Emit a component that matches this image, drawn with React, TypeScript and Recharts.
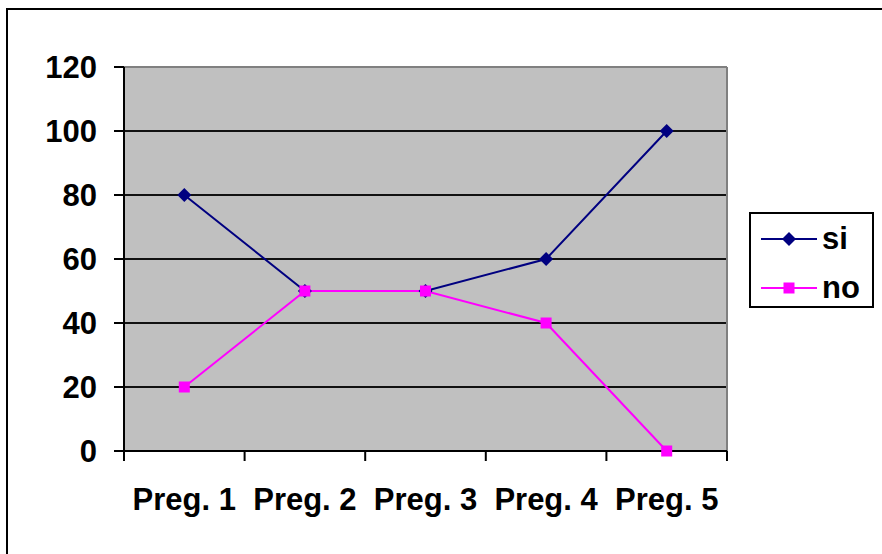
import { CartesianGrid, Legend, Line, LineChart, ReferenceLine, XAxis, YAxis } from "recharts";

const categories = ["Preg. 1", "Preg. 2", "Preg. 3", "Preg. 4", "Preg. 5"];
const siValues = [80, 50, 50, 60, 100];
const noValues = [20, 50, 50, 40, 0];
const yTicks = [0, 20, 40, 60, 80, 100, 120];
const boundaryTicks = [0, 1, 2, 3, 4, 5];

const data = categories.map((name, i) => ({ name, idx: i + 0.5, si: siValues[i], no: noValues[i] }));

const FONT = "'Liberation Sans', Arial, sans-serif";
const NAVY = "#000080";
const MAGENTA = "#FF00FF";
const FS = 31;

const Diamond = (p: any) => {
  const { cx, cy, index } = p;
  if (cx == null || cy == null) return <g key={index} />;
  const r = 7;
  return (
    <path key={index} d={`M${cx},${cy - r}L${cx + r},${cy}L${cx},${cy + r}L${cx - r},${cy}Z`} fill={NAVY} />
  );
};

const Square = (p: any) => {
  const { cx, cy, index } = p;
  if (cx == null || cy == null) return <g key={index} />;
  const h = 5.5;
  return <rect key={index} x={cx - h} y={cy - h} width={h * 2} height={h * 2} fill={MAGENTA} />;
};

const LegendBox = () => {
  const rows = [
    { label: "si", color: NAVY, shape: "diamond" },
    { label: "no", color: MAGENTA, shape: "square" },
  ];
  return (
    <div style={{ paddingLeft: 10 }}>
      {rows.map((r) => (
        <div key={r.label} style={{ display: "flex", alignItems: "center", height: 49 }}>
          <svg width={56} height={16}>
            <line x1={0} y1={8} x2={56} y2={8} stroke={r.color} strokeWidth={2} />
            {r.shape === "diamond" ? (
              <path d="M28,1L35,8L28,15L21,8Z" fill={r.color} />
            ) : (
              <rect x={22.5} y={2.5} width={11} height={11} fill={r.color} />
            )}
          </svg>
          <span style={{ marginLeft: 5, fontFamily: FONT, fontWeight: "bold", fontSize: FS, color: "#000", lineHeight: "30px" }}>
            {r.label}
          </span>
        </div>
      ))}
    </div>
  );
};

export default function App() {
  return (
    <div style={{ position: "absolute", left: 0, top: 0, width: 882, height: 554, background: "#fff" }}>
      <div
        style={{
          position: "absolute",
          left: 6,
          top: 8,
          width: 900,
          height: 560,
          borderLeft: "2px solid #000",
          borderTop: "2px solid #000",
          boxSizing: "border-box",
        }}
      />
      <LineChart
        width={882}
        height={554}
        data={data}
        margin={{ top: 67, right: 155, left: 0, bottom: 31 }}
        style={{ position: "absolute", left: 0, top: 0 }}
      >
        <CartesianGrid fill="#C0C0C0" vertical={false} stroke="#111" strokeWidth={2} />
        <XAxis
          xAxisId="b"
          dataKey="name"
          scale="band"
          axisLine={false}
          tickLine={false}
          tickSize={0}
          tickMargin={25}
          height={60}
          interval={0}
          tick={{ fill: "#000", fontSize: FS, fontWeight: "bold", fontFamily: FONT }}
        />
        <XAxis
          xAxisId="a"
          dataKey="idx"
          type="number"
          domain={[0, 5]}
          ticks={boundaryTicks}
          allowDataOverflow
          interval={0}
          tickFormatter={() => ""}
          tickSize={10}
          height={12}
          axisLine={{ stroke: "#000", strokeWidth: 2 }}
          tickLine={{ stroke: "#000", strokeWidth: 2 }}
        />
        <YAxis
          type="number"
          domain={[0, 120]}
          ticks={yTicks}
          width={124}
          tickSize={10}
          tickMargin={17}
          axisLine={{ stroke: "#000", strokeWidth: 2 }}
          tickLine={{ stroke: "#000", strokeWidth: 2 }}
          tick={{ fill: "#000", fontSize: FS, fontWeight: "bold", fontFamily: FONT }}
        />
        <ReferenceLine y={120} xAxisId="a" stroke="#808080" strokeWidth={2} />
        <ReferenceLine x={5} xAxisId="a" stroke="#808080" strokeWidth={2} />
        <Line
          xAxisId="b"
          dataKey="si"
          name="si"
          stroke={NAVY}
          strokeWidth={2}
          dot={Diamond}
          activeDot={false}
          isAnimationActive={false}
        />
        <Line
          xAxisId="b"
          dataKey="no"
          name="no"
          stroke={MAGENTA}
          strokeWidth={2}
          dot={Square}
          activeDot={false}
          isAnimationActive={false}
        />
        <Legend
          layout="vertical"
          align="center"
          verticalAlign="middle"
          content={<LegendBox />}
          wrapperStyle={{
            left: 749,
            top: 212,
            width: 125,
            height: 96,
            border: "2px solid #000",
            boxSizing: "border-box",
            background: "#fff",
          }}
        />
      </LineChart>
    </div>
  );
}
